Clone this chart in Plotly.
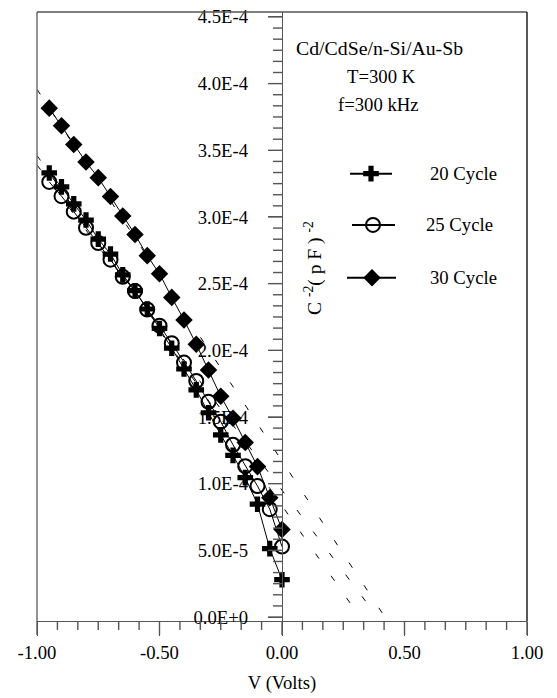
import plotly.graph_objects as go

# Bias voltage (V) for every measured point
voltage = [-0.95, -0.90, -0.85, -0.80, -0.75, -0.70, -0.65, -0.60, -0.55, -0.50,
           -0.45, -0.40, -0.35, -0.30, -0.25, -0.20, -0.15, -0.10, -0.05, 0.00]

# C^-2 in (pF)^-2 for the three deposition cycles
c2_20_cycle = [3.330e-4, 3.226e-4, 3.098e-4, 2.977e-4, 2.834e-4, 2.722e-4, 2.566e-4,
               2.447e-4, 2.310e-4, 2.164e-4, 2.016e-4, 1.860e-4, 1.703e-4, 1.532e-4,
               1.366e-4, 1.212e-4, 1.045e-4, 0.846e-4, 0.513e-4, 0.280e-4]
c2_25_cycle = [3.263e-4, 3.156e-4, 3.040e-4, 2.919e-4, 2.804e-4, 2.680e-4, 2.551e-4,
               2.445e-4, 2.306e-4, 2.185e-4, 2.053e-4, 1.908e-4, 1.770e-4, 1.614e-4,
               1.465e-4, 1.291e-4, 1.131e-4, 0.982e-4, 0.809e-4, 0.528e-4]
c2_30_cycle = [3.816e-4, 3.684e-4, 3.544e-4, 3.412e-4, 3.295e-4, 3.154e-4, 3.007e-4,
               2.869e-4, 2.710e-4, 2.574e-4, 2.397e-4, 2.228e-4, 2.045e-4, 1.852e-4,
               1.655e-4, 1.491e-4, 1.309e-4, 1.128e-4, 0.895e-4, 0.656e-4]

series_names = ["20 Cycle", "25 Cycle", "30 Cycle"]

# Linear extrapolation of each series: value at V = -1 and the voltage intercept
fit_start_v = -1.0
fit_c2_at_start = [3.461e-4, 3.390e-4, 3.957e-4]
fit_v_intercept = [0.318, 0.390, 0.420]

# Axis ticks and labels
x_tick_vals = [-1.0, -0.5, 0.0, 0.5, 1.0]
x_tick_text = ["-1.00", "-0.50", "0.00", "0.50", "1.00"]
y_tick_vals = [0.0, 5e-5, 1e-4, 1.5e-4, 2e-4, 2.5e-4, 3e-4, 3.5e-4, 4e-4, 4.5e-4]
y_tick_text = ["0.0E+0", "5.0E-5", "1.0E-4", "1.5E-4", "2.0E-4",
               "2.5E-4", "3.0E-4", "3.5E-4", "4.0E-4", "4.5E-4"]
# six subdivisions between major ticks
x_minor_vals = [-1.0 + k * (0.5 / 6) for k in range(25) if k % 6]
y_minor_vals = [k * (5e-5 / 6) for k in range(55) if k % 6]

header_lines = ["Cd/CdSe/n-Si/Au-Sb", "T=300 K", "f=300 kHz"]
header_sizes = [19.8, 18.7, 18.7]

FONT = "Liberation Serif"
FS = 18.7
AXIS_COLOR = "#555555"

W, H = 557, 698
M_L, M_R, M_T, M_B = 37, 30, 7, 77
PLOT_W, PLOT_H = W - M_L - M_R, H - M_T - M_B
X_RANGE = [-1.0, 1.0]
Y_RANGE = [-2.98e-6, 4.537e-4]
MAJOR_LEN, MINOR_LEN = 14, 9
LINE_W = 1.4


def px_to_x(px):
    """Horizontal page pixel -> voltage axis value (used for the key)."""
    return X_RANGE[0] + (px - M_L) / PLOT_W * (X_RANGE[1] - X_RANGE[0])


def px_to_y(py):
    """Vertical page pixel -> C^-2 axis value (used for the key)."""
    return Y_RANGE[1] - (py - M_T) / PLOT_H * (Y_RANGE[1] - Y_RANGE[0])


def x_to_paper(v):
    return (v - X_RANGE[0]) / (X_RANGE[1] - X_RANGE[0])


def y_to_paper(c):
    return (c - Y_RANGE[0]) / (Y_RANGE[1] - Y_RANGE[0])


styles = [
    dict(symbol="cross", size=13, color="black", line=dict(width=0)),
    dict(symbol="circle-open", size=14, color="black", line=dict(width=2, color="black")),
    dict(symbol="diamond", size=13.5, color="black", line=dict(width=0)),
]
series_values = [c2_20_cycle, c2_25_cycle, c2_30_cycle]

fig = go.Figure()

# dashed extrapolated straight lines
for c0, v0 in zip(fit_c2_at_start, fit_v_intercept):
    fig.add_trace(go.Scatter(
        x=[fit_start_v, v0], y=[c0, 0.0], mode="lines",
        line=dict(color="black", width=1, dash="6px,21px"),
        showlegend=False, hoverinfo="skip"))

# measured points joined by a thin solid line
for name, vals, mk in zip(series_names, series_values, styles):
    fig.add_trace(go.Scatter(
        x=voltage, y=vals, mode="lines+markers", name=name,
        line=dict(color="black", width=1), marker=mk, showlegend=False))

# key: short line with the symbol, then the label
key_rows = [(350, 392, 371, 170, 428), (352, 395, 373, 221.7, 424), (347, 396, 372, 275, 428)]
for (xa, xb, xm, yk, xt), name, mk in zip(key_rows, series_names, styles):
    fig.add_trace(go.Scatter(
        x=[px_to_x(xa), px_to_x(xb)], y=[px_to_y(yk), px_to_y(yk)], mode="lines",
        line=dict(color="black", width=2), showlegend=False, hoverinfo="skip"))
    fig.add_trace(go.Scatter(
        x=[px_to_x(xm)], y=[px_to_y(yk)], mode="markers",
        marker=mk, showlegend=False, hoverinfo="skip"))
    fig.add_annotation(x=px_to_x(xt), y=px_to_y(yk), text=name, showarrow=False,
                       xanchor="left", yanchor="middle",
                       font=dict(family=FONT, size=FS, color="black"))

for txt, fs, (hx, hy) in zip(header_lines, header_sizes, [(379, 43), (381, 72), (378, 100)]):
    fig.add_annotation(x=px_to_x(hx), y=px_to_y(hy), text=txt, showarrow=False,
                       xanchor="center", yanchor="middle",
                       font=dict(family=FONT, size=fs, color="black"))

fig.add_annotation(x=px_to_x(314), y=px_to_y(265),
                   text="C <sup>-2</sup>( p F ) <sup>-2</sup>", showarrow=False,
                   textangle=-90, xanchor="center", yanchor="middle",
                   font=dict(family=FONT, size=19.5, color="black"))

# tick marks: x ticks hang below the bottom axis, y ticks point left of the V = 0 axis
tick_line = dict(color=AXIS_COLOR, width=LINE_W)
y_axis_px = x_to_paper(0.0)
for vals, length in ((x_tick_vals, MAJOR_LEN), (x_minor_vals, MINOR_LEN)):
    for v in vals:
        xp = x_to_paper(v)
        fig.add_shape(type="line", xref="paper", yref="paper", x0=xp, x1=xp,
                      y0=0, y1=-length / PLOT_H, line=tick_line, layer="above")
for vals, length in ((y_tick_vals, MAJOR_LEN), (y_minor_vals, MINOR_LEN)):
    for c in vals:
        yp = y_to_paper(c)
        fig.add_shape(type="line", xref="paper", yref="paper",
                      x0=y_axis_px, x1=y_axis_px - length / PLOT_W,
                      y0=yp, y1=yp, line=tick_line, layer="above")

# plot frame
frame = [(0, 0, 0, 1, "#666666"), (0, 1, 1, 1, "#555555"), (1, 0, 1, 1, "#111111")]
for x0, y0, x1, y1, col in frame:
    fig.add_shape(type="line", xref="paper", yref="paper", x0=x0, y0=y0, x1=x1, y1=y1,
                  line=dict(color=col, width=LINE_W), layer="above")

fig.update_layout(
    width=W, height=H,
    margin=dict(l=M_L, r=M_R, t=M_T, b=M_B),
    paper_bgcolor="white", plot_bgcolor="white",
    font=dict(family=FONT, size=FS, color="black"),
    xaxis=dict(
        range=X_RANGE, showgrid=False, zeroline=False,
        showline=True, linecolor=AXIS_COLOR, linewidth=LINE_W,
        ticks="outside", ticklen=MAJOR_LEN, tickwidth=LINE_W, tickcolor=AXIS_COLOR,
        tickmode="array", tickvals=x_tick_vals, ticktext=x_tick_text,
        tickfont=dict(family=FONT, size=FS, color="black"),
        title=dict(text="V (Volts)", standoff=14,
                   font=dict(family=FONT, size=FS, color="black")),
    ),
    yaxis=dict(
        range=Y_RANGE, showgrid=False, zeroline=False,
        anchor="free", position=0.5, side="left",
        showline=True, linecolor=AXIS_COLOR, linewidth=LINE_W,
        ticks="outside", ticklen=MAJOR_LEN, tickwidth=LINE_W, tickcolor=AXIS_COLOR,
        tickmode="array", tickvals=y_tick_vals, ticktext=y_tick_text,
        ticklabelstandoff=16,
        tickfont=dict(family=FONT, size=FS, color="black"),
    ),
    showlegend=False,
)

fig.write_html("out.html")
